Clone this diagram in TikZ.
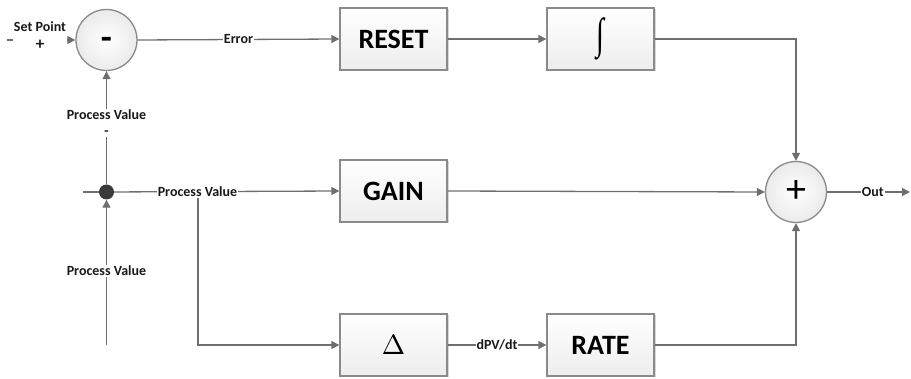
\documentclass[tikz,border=0pt]{standalone}
\usepackage{fontspec}
\setmainfont{Carlito}
\newfontfamily\symfont{Liberation Serif}
\usetikzlibrary{arrows.meta,shadows}
\definecolor{wirecol}{HTML}{6E6E6E}
\definecolor{boxcol}{HTML}{8A8A8A}
\definecolor{dotcol}{HTML}{3A3A3A}
\begin{document}
\begin{tikzpicture}[x=1pt,y=-1pt,
  wire/.style={draw=wirecol, line width=1.3pt},
  arr/.style={wire, -{Triangle[length=8pt,width=8pt]}},
  block/.style={draw=boxcol, line width=1.3pt, minimum width=107pt, minimum height=62pt,
    inner sep=0pt, top color=white, bottom color=gray!14,
    drop shadow={shadow xshift=1.5pt, shadow yshift=-1.5pt, opacity=0.15, fill=black},
    font=\fontsize{28}{28}\selectfont\bfseries},
  sumnode/.style={circle, draw=boxcol, line width=1.3pt, minimum size=61pt, inner sep=0pt,
    inner color=white, outer color=gray!16},
  lbl/.style={fill=white, inner sep=1pt, font=\fontsize{14}{16}\selectfont\bfseries, text=black!90},
]
\useasboundingbox (0,0) rectangle (911,379);

% summing junctions and blocks
\node[sumnode] (minus) at (106.5,40) {\fontsize{36}{36}\selectfont\bfseries\vphantom{+}-};
\node[block] (reset) at (393.5,39) {RESET};
\node[block] (integ) at (600.5,39) {\scalebox{0.9}[1.35]{\symfont\fontsize{32}{32}\selectfont ∫}};
\node[block] (gain)  at (393.5,191) {GAIN};
\node[block] (delta) at (393.5,345) {\fontsize{10}{10}\selectfont\scalebox{2.8}{$\Delta$}};
\node[block] (rate)  at (600.5,345) {RATE};
\node[sumnode] (plus) at (796,192) {\fontsize{40}{40}\selectfont +};
\node[circle, fill=dotcol, inner sep=0pt, minimum size=15pt] (junc) at (106.5,192) {};

% free ends of the open connectors
\coordinate (spin)     at (7,40);
\coordinate (outend)   at (910,192);
\coordinate (pvleft)   at (83,192);
\coordinate (pvbottom) at (106.5,345);
\coordinate (branch)   at (198,192);

% connectors
\draw[arr] (spin) -- (minus.west);
\draw[arr] (minus.east) -- node[lbl] (errlbl) {Error} (reset.west);
\draw[arr] (reset.east) -- (integ.west);
\draw[arr] (integ.east) -| (plus.north);
\draw[arr] (rate.east) -| (plus.south);
\draw[arr] (delta.east) -- node[lbl] (dlbl) {dPV/dt} (rate.west);
\draw[arr] (plus.east) -- node[lbl, pos=0.55] (outlbl) {Out} (outend);
\draw[wire] (pvleft) -- (junc);
\draw[arr] (branch) |- (delta.west);
\draw[arr] (gain.east) -- (plus.west);
\draw[arr] (junc) -- node[lbl, pos=0.37] (pvlbl) {Process Value} (gain.west);
\draw[arr] (junc) -- (minus.south);
\draw[arr] (pvbottom) -- (junc);

% labels sitting on the vertical and input lines
\node[lbl, align=center] (splbl) at (40,36) {Set Point\\[2pt]{\fontsize{17}{17}\selectfont +}};
\node[lbl, align=center] (pvtop) at (106.5,123) {Process Value\\-};
\node[lbl] (pvbot) at (106.5,271) {Process Value};
\end{tikzpicture}
\end{document}
